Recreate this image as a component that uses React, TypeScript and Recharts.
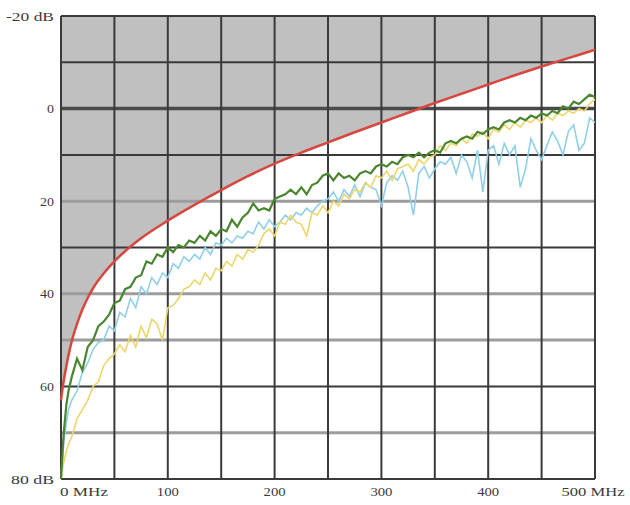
import { ComposedChart, Area, Line, XAxis, YAxis, ReferenceLine } from 'recharts'

document.body.style.margin = '0'

// frequency points (MHz)
const freqs = [
  0, 1, 2, 3, 5, 7, 10,
  15, 20, 25, 30, 35, 40, 45, 50, 55, 60, 65, 70, 75, 80, 85, 90, 95, 100,
  105, 110, 115, 120, 125, 130, 135, 140, 145, 150, 155, 160, 165, 170, 175, 180, 185, 190, 195, 200,
  205, 210, 215, 220, 225, 230, 235, 240, 245, 250, 255, 260, 265, 270, 275, 280, 285, 290, 295, 300,
  305, 310, 315, 320, 325, 330, 335, 340, 345, 350, 355, 360, 365, 370, 375, 380, 385, 390, 395, 400,
  405, 410, 415, 420, 425, 430, 435, 440, 445, 450, 455, 460, 465, 470, 475, 480, 485, 490, 495, 500,
]

const greenDb = [
  80, 76, 72, 69, 64, 61, 58,
  54, 56.5, 51.5, 50, 47, 46, 44.5, 42, 41.5, 39, 38.5, 36.5, 36, 33, 33.5, 31.5, 32, 30,
  31, 29.5, 30, 28.5, 29, 27.5, 28.5, 26.5, 27.5, 26, 26.5, 24, 25.5, 23.5, 22.5, 20.5, 22, 21.5, 22, 19.5,
  19, 18.5, 17.5, 18.5, 17, 18.5, 16.5, 16, 14.5, 14, 15.5, 14, 15, 14.5, 15.5, 14, 13.5, 14, 12.5, 12,
  12.5, 11.5, 12, 10.5, 10, 10.5, 9.5, 10.5, 9.5, 9, 9.5, 7.5, 7, 7.5, 6.5, 6, 6.5, 5, 5.5, 4.5,
  4, 4.5, 3, 2.5, 3, 2, 2.5, 1.5, 2, 1, 1.5, 0.5, 1, -0.5, 0, -1.5, -1, -2, -3, -2.5,
]

const cyanDb = [
  79, 77, 74, 71, 68, 65, 63,
  61, 57, 55, 52, 50.5, 50, 47, 48, 44, 45, 41, 43, 38.5, 40, 36.5, 38, 35.5, 36.5,
  33.5, 34.5, 32, 33, 31.5, 32.5, 30, 31.5, 29, 29.5, 28, 29, 27.5, 28, 26.5, 27, 24.5, 26, 24, 25.5,
  24.5, 23, 24, 22.5, 23, 21.5, 22.5, 21, 20, 19.5, 18, 20, 17.5, 19, 16.5, 19, 16, 17, 17.5, 21,
  16, 14.5, 15.5, 13.5, 17, 23, 14, 12.5, 15, 13, 11.5, 12, 10.5, 14, 10, 11.5, 15, 9, 18, 9,
  8, 12, 7.5, 10, 8, 17, 13, 6.5, 9, 11, 8, 5, 7, 10, 5, 3.5, 9, 7.5, 2, 3,
]

const yellowDb = [
  80, 79, 77, 76, 74, 72.5, 71,
  67, 65, 63, 60, 59, 55.5, 54, 53, 51, 52.5, 49, 51.5, 47, 49.5, 45.5, 46.5, 50, 43,
  42.5, 41, 39, 38.5, 37, 38, 35.5, 37, 34.5, 35, 33, 34, 31.5, 32.5, 30.5, 31, 29.5, 27, 26, 27.5,
  24.5, 25, 23, 24.5, 25, 27.5, 22.5, 23, 21, 22.5, 20, 21, 18.5, 19.5, 17.5, 18, 16, 17, 14.5, 15,
  13.5, 15.5, 13, 12.5, 12, 13.5, 11, 12, 10.5, 10, 8, 9, 7.5, 8, 6.5, 7.5, 5.5, 6, 5, 6.5,
  4.5, 5, 3.5, 4.5, 3, 4, 2.5, 3, 2, 3, 1.5, 2.5, 1, 1.5, 0.5, 1, 0, 0.5, -1, -2,
]

// limit curve
const limitFreqs = [
  0, 1, 2, 3, 5, 7, 10, 15, 20, 25, 30, 40, 50, 60, 75, 100, 125, 150, 175, 200,
  225, 250, 275, 300, 325, 350, 375, 400, 425, 450, 475, 500,
]
const limitDb = [
  63, 61.2, 59.6, 58.2, 55.6, 53.3, 50.3, 46.5, 43.4, 40.9, 38.8, 35.6, 33, 30.8, 28, 24.2, 20.8, 17.6, 14.6, 11.9,
  9.5, 7.3, 5.1, 3, 0.9, -1.2, -3.2, -5.2, -7.2, -9.1, -10.9, -12.7,
]

const xTicks = [0, 100, 200, 300, 400, 500]
const xGrid = [0, 50, 100, 150, 200, 250, 300, 350, 400, 450, 500]
const yTicks = [-20, 0, 20, 40, 60, 80]
const yGrid = [-20, -10, 0, 10, 20, 30, 40, 50, 60, 70, 80]

const data = freqs.map((f, i) => {
  const k = limitFreqs.indexOf(f)
  return {
    f,
    green: greenDb[i],
    cyan: cyanDb[i],
    yellow: yellowDb[i],
    limit: k >= 0 ? limitDb[k] : null,
  }
})

const font = '"Liberation Serif", "DejaVu Serif", serif'

function hLineStyle(v: number) {
  if (v === 0) return { stroke: '#4a4a4a', strokeWidth: 3.5 }
  if (v === 20 || v === 40 || v === 50 || v === 70) return { stroke: '#9c9c9c', strokeWidth: 3 }
  return { stroke: '#3a3a3a', strokeWidth: 2 }
}

function XTick(props: any) {
  const { x, y, payload } = props
  const v = payload.value
  if (v === 0) {
    return (
      <text x={x - 1} y={y} dy="0.71em" textAnchor="start" fontFamily={font} fontSize={13} fill="#3a3a3a" textLength={48} lengthAdjust="spacingAndGlyphs">
        0 MHz
      </text>
    )
  }
  if (v === 500) {
    return (
      <text x={x - 2} y={y} dy="0.71em" textAnchor="middle" fontFamily={font} fontSize={13} fill="#3a3a3a" textLength={63} lengthAdjust="spacingAndGlyphs">
        500 MHz
      </text>
    )
  }
  return (
    <text x={x} y={y} dy="0.71em" textAnchor="middle" fontFamily={font} fontSize={12} fill="#3a3a3a" textLength={22} lengthAdjust="spacingAndGlyphs">
      {v}
    </text>
  )
}

function YTick(props: any) {
  const { x, y, payload } = props
  const v = payload.value
  const label = v === -20 ? '-20 dB' : v === 80 ? '80 dB' : String(v)
  const width = v === -20 ? 48 : v === 80 ? 43 : label.length * 7
  return (
    <text x={x + 1} y={y} dy="0.35em" textAnchor="end" fontFamily={font} fontSize={13} fill="#3a3a3a" textLength={width} lengthAdjust="spacingAndGlyphs">
      {label}
    </text>
  )
}

export default function App() {
  return (
    <ComposedChart
      width={630}
      height={505}
      data={data}
      margin={{ top: 16, right: 35, bottom: 0, left: 0 }}
    >
      <XAxis
        type="number"
        dataKey="f"
        domain={[0, 500]}
        ticks={xTicks}
        axisLine={false}
        tickLine={false}
        height={26}
        tick={(p: any) => <XTick {...p} />}
        interval={0}
      />
      <YAxis
        type="number"
        domain={[-20, 80]}
        reversed
        ticks={yTicks}
        axisLine={false}
        tickLine={false}
        width={61}
        tick={(p: any) => <YTick {...p} />}
        interval={0}
      />
      <Area
        type="monotone"
        dataKey="limit"
        baseValue={-20}
        stroke="none"
        fill="#c0c0c0"
        fillOpacity={1}
        connectNulls
        isAnimationActive={false}
      />
      {yGrid.map((v) => (
        <ReferenceLine key={'h' + v} y={v} {...hLineStyle(v)} />
      ))}
      {xGrid.map((v) => (
        <ReferenceLine key={'v' + v} x={v} stroke="#3a3a3a" strokeWidth={2} />
      ))}
      <Line type="linear" dataKey="cyan" stroke="#8fd0e6" strokeWidth={1.6} dot={false} isAnimationActive={false} />
      <Line type="linear" dataKey="yellow" stroke="#ecd66c" strokeWidth={1.6} dot={false} isAnimationActive={false} />
      <Line type="linear" dataKey="green" stroke="#4a8530" strokeWidth={2.2} dot={false} isAnimationActive={false} />
      <Line
        type="monotone"
        dataKey="limit"
        stroke="#d9463e"
        strokeWidth={2.5}
        dot={false}
        connectNulls
        isAnimationActive={false}
      />
    </ComposedChart>
  )
}
